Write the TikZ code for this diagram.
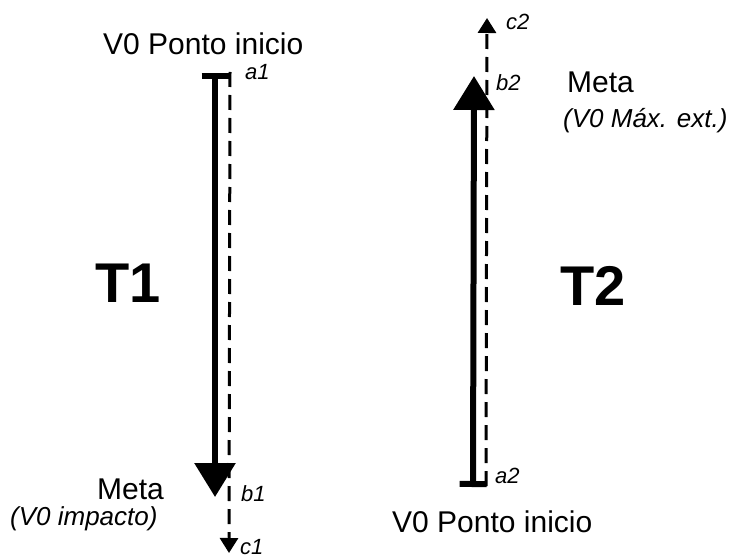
\documentclass[tikz,border=0pt]{standalone}
\usepackage{fontspec}
\setmainfont{Liberation Sans}
\usetikzlibrary{arrows.meta}
\begin{document}
\begin{tikzpicture}[x=1pt,y=-1pt,
  lbl/.style={inner sep=0pt,anchor=base west,font=\fontsize{30}{36}\selectfont},
  sublbl/.style={inner sep=0pt,anchor=base west,font=\fontsize{26}{31}\selectfont\itshape},
  pt/.style={inner sep=0pt,anchor=base west,font=\fontsize{22}{26}\selectfont\itshape},
  big/.style={inner sep=0pt,anchor=base west,font=\fontsize{56}{60}\selectfont\bfseries},
  thickarrow/.style={line width=6pt,{Bar[width=27pt]}-{Triangle[width=40pt,length=34pt]}},
  dasharrow/.style={line width=3pt,dash pattern=on 15pt off 8pt,-{Triangle[width=18pt,length=15pt]}}
]
\useasboundingbox (0,0) rectangle (731,559);
% coordinates
\coordinate (a1s) at (215,73);
\coordinate (b1s) at (215,497);
\coordinate (a1d) at (230,72);
\coordinate (c1d) at (229,553);
\coordinate (a2s) at (473,487);
\coordinate (b2s) at (474,76);
\coordinate (a2d) at (486,486);
\coordinate (c2d) at (487,18);
% dashed lines
\draw[dasharrow] (a1d) -- (c1d);
\draw[dasharrow] (a2d) -- (c2d);
% thick lines
\draw[thickarrow] (a1s) -- (b1s);
\draw[thickarrow] (a2s) -- (b2s);
% labels T1
\node[lbl] (top1) at (103,55) {V0 Ponto inicio};
\node[pt] (la1) at (245,80) {a1};
\node[big] (t1) at (95,302) {T1};
\node[lbl] (meta1) at (97,499) {Meta};
\node[sublbl] (imp) at (10,525) {(V0 impacto)};
\node[pt] (lb1) at (241,501) {b1};
\node[pt] (lc1) at (240,554) {c1};
% labels T2
\node[pt] (lc2) at (506,30) {c2};
\node[pt] (lb2) at (496,91) {b2};
\node[lbl] (meta2) at (567,93) {Meta};
\node[sublbl] (ext) at (563,128) {(V0 Máx. ext.)};
\node[big] (t2) at (560,305) {T2};
\node[pt] (la2) at (495,483) {a2};
\node[lbl] (top2) at (392,532) {V0 Ponto inicio};
\end{tikzpicture}
\end{document}
